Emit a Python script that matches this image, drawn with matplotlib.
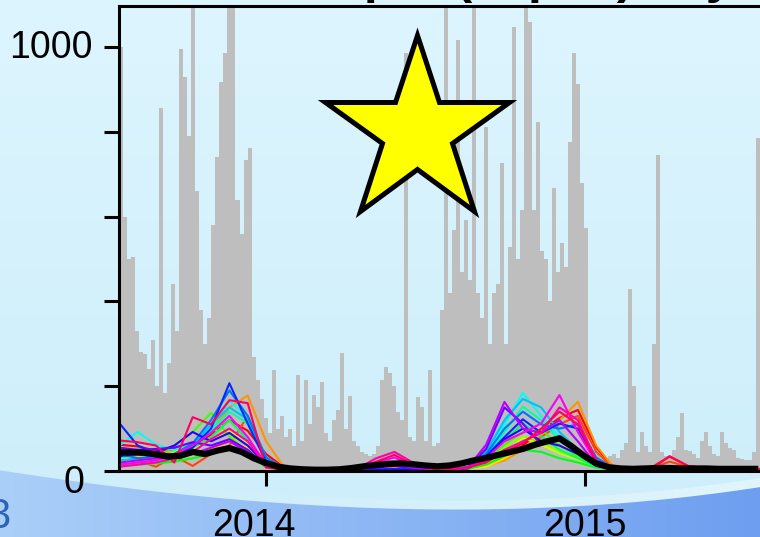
"""Daily counts with per-site trajectories and the overall mean, mid-2013 to mid-2015."""
import matplotlib
matplotlib.use("Agg")
import matplotlib.pyplot as plt
import numpy as np
from matplotlib.markers import MarkerStyle
from matplotlib.patches import Polygon
from matplotlib.transforms import ScaledTranslation

plt.rcParams["font.family"] = ["Liberation Sans", "DejaVu Sans"]

START = 2013.54      # first observation, decimal year
BIN_DAYS = 4.587     # width of one count bin

# binned daily counts (grey)
counts = [
    1000, 600, 500, 505, 330, 280, 275, 240, 310, 200,
    856, 185, 255, 440, 330, 995, 929, 790, 1100, 660,
    380, 300, 360, 580, 740, 918, 986, 1100, 1100, 640,
    558, 733, 762, 269, 215, 170, 124, 90, 238, 100,
    130, 80, 100, 60, 226, 70, 214, 110, 180, 150,
    210, 90, 70, 120, 144, 278, 100, 176, 70, 60,
    45, 40, 35, 40, 60, 215, 245, 230, 200, 140,
    120, 986, 80, 70, 175, 150, 70, 238, 60, 65,
    380, 1100, 420, 568, 1016, 470, 592, 450, 1100, 420,
    360, 811, 300, 420, 440, 726, 300, 528, 1047, 500,
    616, 1100, 1060, 615, 823, 520, 500, 400, 667, 470,
    537, 480, 776, 986, 912, 679, 574, 60, 50, 40,
    30, 25, 35, 40, 30, 50, 66, 430, 200, 45,
    92, 60, 45, 300, 745, 45, 35, 30, 50, 80,
    137, 50, 48, 40, 30, 70, 92, 60, 40, 35,
    92, 66, 55, 50, 30, 28, 25, 25, 45, 785,
]

# per-site series, one value every 3 weeks
SITE_WEEKS = 3
sites = [
    [62, 58, 48, 52, 60, 85, 120, 95, 40, 8, 4, 3, 3, 4, 5, 6, 5, 4, 4, 6, 12, 30, 60, 95, 125, 144, 55, 6, 5, 8, 34, 12, 7, 5, 5, 4],
    [30, 25, 10, 35, 12, 40, 60, 130, 30, 6, 4, 3, 3, 4, 5, 6, 5, 4, 4, 6, 14, 28, 50, 80, 110, 130, 45, 5, 4, 6, 22, 10, 6, 5, 4, 4],
    [40, 35, 38, 45, 60, 95, 150, 178, 70, 8, 5, 4, 4, 5, 6, 7, 6, 5, 5, 7, 12, 25, 50, 85, 120, 163, 60, 6, 5, 4, 12, 6, 5, 4, 4, 4],
    [22, 25, 28, 30, 38, 50, 70, 55, 18, 4, 3, 3, 3, 3, 4, 4, 4, 3, 3, 5, 10, 30, 55, 70, 60, 45, 18, 4, 3, 3, 4, 3, 3, 3, 3, 3],
    [28, 32, 36, 40, 52, 72, 95, 62, 20, 4, 3, 3, 3, 3, 4, 4, 4, 3, 3, 5, 15, 42, 78, 62, 42, 28, 10, 4, 3, 3, 4, 3, 3, 3, 3, 3],
    [18, 22, 30, 45, 68, 100, 85, 45, 12, 4, 3, 2, 2, 3, 3, 4, 3, 3, 3, 5, 20, 55, 82, 70, 45, 30, 12, 4, 3, 3, 3, 3, 3, 3, 3, 3],
    [15, 20, 28, 60, 92, 137, 82, 38, 10, 3, 2, 2, 2, 2, 3, 3, 3, 2, 3, 6, 25, 62, 92, 98, 60, 35, 10, 3, 2, 2, 3, 2, 2, 2, 2, 2],
    [12, 15, 18, 22, 30, 40, 55, 35, 10, 3, 2, 2, 2, 2, 3, 3, 3, 2, 3, 5, 15, 35, 50, 45, 30, 20, 8, 3, 2, 2, 2, 2, 2, 2, 2, 2],
    [18, 22, 25, 35, 55, 80, 120, 72, 18, 4, 3, 2, 2, 3, 3, 3, 3, 3, 3, 7, 30, 72, 112, 82, 50, 30, 10, 3, 3, 3, 3, 3, 3, 3, 3, 3],
    [30, 40, 35, 40, 60, 95, 140, 112, 28, 5, 3, 3, 3, 3, 4, 4, 4, 3, 4, 8, 35, 92, 152, 120, 72, 40, 12, 4, 3, 3, 3, 3, 3, 3, 3, 3],
    [60, 92, 62, 50, 65, 100, 165, 128, 32, 6, 4, 3, 3, 4, 4, 5, 4, 4, 4, 10, 40, 110, 184, 130, 80, 45, 15, 4, 3, 3, 4, 3, 3, 3, 3, 3],
    [25, 30, 28, 35, 60, 110, 150, 122, 28, 5, 3, 3, 3, 3, 4, 4, 3, 3, 4, 8, 45, 120, 170, 150, 92, 50, 15, 4, 3, 3, 3, 3, 3, 3, 3, 3],
    [40, 30, 35, 40, 65, 120, 190, 130, 32, 6, 4, 3, 3, 3, 4, 4, 4, 3, 4, 9, 40, 100, 140, 110, 100, 110, 32, 5, 3, 3, 3, 3, 3, 3, 3, 3],
    [113, 60, 42, 38, 55, 100, 207, 112, 22, 5, 3, 2, 2, 3, 3, 3, 3, 3, 4, 8, 35, 80, 122, 90, 112, 100, 25, 4, 3, 3, 3, 3, 3, 3, 3, 3],
    [35, 40, 45, 60, 92, 70, 90, 60, 15, 4, 3, 2, 2, 3, 3, 4, 3, 3, 3, 6, 30, 75, 100, 70, 60, 40, 12, 4, 3, 3, 3, 3, 3, 3, 3, 3],
    [55, 50, 52, 55, 68, 60, 75, 50, 12, 4, 3, 3, 3, 4, 8, 12, 6, 4, 4, 8, 52, 150, 112, 62, 82, 50, 15, 4, 3, 3, 3, 3, 3, 3, 3, 3],
    [20, 25, 30, 30, 40, 55, 70, 45, 10, 4, 3, 3, 3, 4, 10, 18, 8, 4, 4, 8, 62, 163, 100, 90, 120, 70, 15, 4, 3, 3, 5, 3, 3, 3, 3, 3],
    [15, 20, 25, 40, 60, 90, 130, 80, 15, 4, 3, 3, 3, 5, 20, 32, 12, 5, 4, 7, 30, 70, 90, 112, 179, 92, 20, 5, 3, 3, 6, 4, 3, 3, 3, 3],
    [10, 15, 20, 30, 45, 75, 100, 70, 12, 4, 3, 3, 4, 6, 30, 45, 20, 8, 5, 8, 25, 50, 70, 90, 150, 120, 25, 5, 4, 4, 10, 5, 4, 4, 4, 4],
    [72, 68, 60, 20, 127, 110, 167, 160, 8, 3, 3, 3, 4, 6, 22, 38, 15, 6, 5, 8, 20, 45, 65, 100, 140, 110, 20, 5, 4, 4, 35, 12, 6, 5, 5, 5],
]

# mean over all sites, one value every 2 weeks
MEAN_WEEKS = 2
mean_curve = [
    44, 44, 43, 39, 34, 36, 45, 40, 48, 54, 45, 30, 19, 10, 6, 4, 3, 3, 4, 7,
    11, 14, 17, 18, 16, 13, 11, 13, 18, 25, 31, 38, 45, 52, 62, 70, 77, 58, 36, 18,
    9, 6, 5, 6, 7, 7, 6, 6, 6, 5, 5, 5, 5,
]

title = "Cases per (capita) day"
year_ticks = [2014, 2015]
y_ticks = [0, 200, 400, 600, 800, 1000]
y_labels = ["0", "", "", "", "", "1000"]
star_at = (2014.473, 800)

W, H = 760, 537
fig = plt.figure(figsize=(W / 100, H / 100), dpi=100)

# slide background: soft sky gradient with a blue swoosh along the bottom
bg = fig.add_axes([0, 0, 1, 1], zorder=-10)
bg.set_xlim(0, W); bg.set_ylim(H, 0); bg.axis("off")
g = np.linspace(0, 1, 256)[:, None, None]
sky = (1 - g) * np.array([221, 245, 254]) / 255 + g * np.array([204, 238, 250]) / 255
bg.imshow(sky, extent=(0, W, H, 0), aspect="auto", interpolation="bilinear")

edge_x = [0, 150, 300, 450, 600, 760]
edge_y = [470, 492, 503, 510, 505, 487]
cx = np.linspace(0, W, 200)
cy = np.polyval(np.polyfit(edge_x, edge_y, 3), cx)
# pale rim just above the swoosh, fading in towards the right
rim = np.zeros((1, 256, 4))
rim[..., :3] = 1.0
rim[..., 3] = np.linspace(0, 0.55, 256) ** 1.5
rim_band = Polygon(np.column_stack([np.r_[cx, cx[::-1]], np.r_[cy - 9, cy[::-1] + 1]]),
                   closed=True, transform=bg.transData, facecolor="none", edgecolor="none")
bg.add_patch(rim_band)
rim_im = bg.imshow(rim, extent=(0, W, H, 0), aspect="auto", interpolation="bilinear")
rim_im.set_clip_path(rim_band)

h = np.linspace(0, 1, 256)[None, :, None]
blue = (1 - h) * np.array([170, 207, 248]) / 255 + h * np.array([110, 158, 240]) / 255
swoosh = Polygon(np.column_stack([np.r_[cx, W, 0], np.r_[cy, H, H]]), closed=True,
                 transform=bg.transData, facecolor="none", edgecolor="none")
bg.add_patch(swoosh)
im = bg.imshow(blue, extent=(0, W, H, 0), aspect="auto", interpolation="bilinear")
im.set_clip_path(swoosh)
fig.text(11 / W, 1 - 517 / H, "3", color="#2f63b8", fontsize=30, ha="right", va="center")

fig.text(468 / W, 1 + 7 / H, title, ha="center", va="baseline",
         fontsize=36, fontweight="bold")

# main panel, running off the right edge of the slide
ax = fig.add_axes([119 / W, 1 - 471 / H, 1 - 119 / W, 465 / H])
ax.set_facecolor("none")
step = BIN_DAYS / 365.25
t_bins = START + step * np.arange(len(counts))
ax.bar(t_bins, counts, width=step, align="edge", color="#bebebe", linewidth=0, zorder=1)

colors = plt.cm.hsv(np.linspace(0, 0.95, len(sites)))
for vals, c in zip(sites, colors):
    t = START + SITE_WEEKS * 7 / 365.25 * np.arange(len(vals))
    ax.plot(t, vals, color=c, lw=1.5, zorder=2)

t_mean = START + MEAN_WEEKS * 7 / 365.25 * np.arange(len(mean_curve))
ax.plot(t_mean, mean_curve, color="black", lw=4.5, zorder=3, solid_joinstyle="round")

ax.plot(*star_at, marker=MarkerStyle("*", joinstyle="miter"), markersize=140,
        mfc="#ffff00", mec="black", mew=3.6, zorder=5, clip_on=False)

ax.set_xlim(START - 0.001, START - 0.001 + 641 / 319)
ax.set_ylim(0, 465 / 0.424)
ax.set_xticks(year_ticks)
ax.set_xticklabels([str(y) for y in year_ticks])
ax.set_yticks(y_ticks)
ax.set_yticklabels(y_labels)
ax.tick_params(axis="both", length=10.8, width=2.2, labelsize=27, color="black")
ax.tick_params(axis="x", pad=16)
ax.tick_params(axis="y", pad=8)
for s in ["left", "bottom", "top"]:
    ax.spines[s].set_linewidth(2.2)
ax.spines["right"].set_visible(False)

for lbl in ax.get_xticklabels():
    if lbl.get_text() == "2014":
        lbl.set_transform(lbl.get_transform() + ScaledTranslation(-0.12, 0, fig.dpi_scale_trans))
for lbl in ax.get_yticklabels():
    if lbl.get_text() == "0":
        lbl.set_transform(lbl.get_transform() + ScaledTranslation(-0.09, -0.08, fig.dpi_scale_trans))
    elif lbl.get_text() == "1000":
        lbl.set_transform(lbl.get_transform() + ScaledTranslation(0, 0.035, fig.dpi_scale_trans))

fig.savefig("out.png", dpi=100)
